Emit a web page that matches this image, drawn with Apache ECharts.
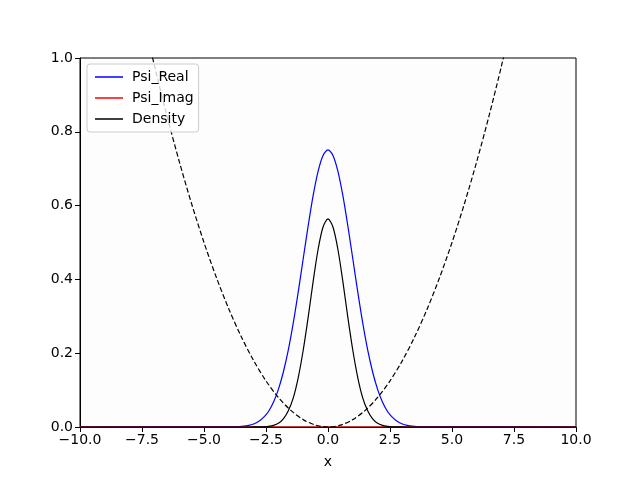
<!DOCTYPE html>
<html><head><meta charset="utf-8">
<script src="https://cdn.jsdelivr.net/npm/echarts@6/dist/echarts.min.js"></script>
<style>html,body{margin:0;padding:0;background:#fff}#c{width:640px;height:480px}</style>
</head><body><div id="c"></div>
<script>
// Wavefunction sample positions
const xWave = [-10, -4.0, -3.8, -3.6, -3.4, -3.2, -3.0, -2.8, -2.6, -2.4, -2.2, -2.0, -1.8, -1.6, -1.4, -1.2, -1.0, -0.8, -0.6, -0.4, -0.2, 0.0,
  0.2, 0.4, 0.6, 0.8, 1.0, 1.2, 1.4, 1.6, 1.8, 2.0, 2.2, 2.4, 2.6, 2.8, 3.0, 3.2, 3.4, 3.6, 3.8, 4.0, 10];
const psiReal = [0, 0.0003, 0.0005, 0.0012, 0.0023, 0.0045, 0.0083, 0.015, 0.026, 0.042, 0.067, 0.102, 0.149, 0.209, 0.282, 0.366, 0.456, 0.545, 0.627, 0.693, 0.736, 0.751,
  0.736, 0.693, 0.627, 0.545, 0.456, 0.366, 0.282, 0.209, 0.149, 0.102, 0.067, 0.042, 0.026, 0.015, 0.0083, 0.0045, 0.0023, 0.0012, 0.0005, 0.0003, 0];
const psiImag = [0, 0, 0, 0, 0, 0, 0, 0, 0, 0, 0, 0, 0, 0, 0, 0, 0, 0, 0, 0, 0, 0,
  0, 0, 0, 0, 0, 0, 0, 0, 0, 0, 0, 0, 0, 0, 0, 0, 0, 0, 0, 0, 0];
const density = [0, 0, 0, 0, 0, 0, 0.0001, 0.0002, 0.0006, 0.0018, 0.0045, 0.010, 0.022, 0.044, 0.079, 0.134, 0.208, 0.297, 0.394, 0.481, 0.542, 0.564,
  0.542, 0.481, 0.394, 0.297, 0.208, 0.134, 0.079, 0.044, 0.022, 0.010, 0.0045, 0.0018, 0.0006, 0.0002, 0.0001, 0, 0, 0, 0, 0, 0];
// Potential (dashed)
const xPot = [-8, -7.5, -7, -6.5, -6, -5.5, -5, -4.5, -4, -3.5, -3, -2.5, -2, -1.5, -1, -0.5, 0, 0.5, 1, 1.5, 2, 2.5, 3, 3.5, 4, 4.5, 5, 5.5, 6, 6.5, 7, 7.5, 8];
const potential = [1.28, 1.125, 0.98, 0.845, 0.72, 0.605, 0.5, 0.405, 0.32, 0.245, 0.18, 0.125, 0.08, 0.045, 0.02, 0.005, 0, 0.005, 0.02, 0.045, 0.08, 0.125, 0.18, 0.245, 0.32, 0.405, 0.5, 0.605, 0.72, 0.845, 0.98, 1.125, 1.28];

const pair = (xs, ys) => xs.map((x, i) => [x, ys[i]]);
const font = 'DejaVu Sans';
const fmt1 = v => v.toFixed(1).replace('-', '\u2212');

const chart = echarts.init(document.getElementById('c'), null, {renderer: 'canvas'});
chart.setOption({
  animation: false,
  grid: {left: 80, right: 64, top: 58, bottom: 53, show: true, backgroundColor: '#fdfdfd', borderColor: '#000', borderWidth: 1},
  legend: {
    data: ['Psi_Real', 'Psi_Imag', 'Density'],
    orient: 'vertical', left: 87, top: 64,
    icon: 'rect', itemWidth: 28, itemHeight: 1.5, itemGap: 7,
    padding: [6, 5, 6, 8],
    backgroundColor: 'rgba(255,255,255,0.8)', borderColor: '#ccc', borderWidth: 1, borderRadius: 3,
    textStyle: {fontFamily: font, fontSize: 14, color: '#000', padding: [0, 0, 0, 4]}
  },
  xAxis: {
    type: 'value', min: -10, max: 10, interval: 2.5,
    name: 'x', nameLocation: 'middle', nameGap: 28,
    nameTextStyle: {fontFamily: font, fontSize: 14, color: '#000'},
    axisLine: {show: true, onZero: false, lineStyle: {color: '#000', width: 1}},
    axisTick: {show: true, length: 5, lineStyle: {color: '#000'}},
    axisLabel: {fontFamily: font, fontSize: 14, color: '#000', margin: 6, formatter: fmt1},
    splitLine: {show: false}
  },
  yAxis: {
    type: 'value', min: 0, max: 1, interval: 0.2,
    axisLine: {show: true, onZero: false, lineStyle: {color: '#000', width: 1}},
    axisTick: {show: true, length: 5, lineStyle: {color: '#000'}},
    axisLabel: {fontFamily: font, fontSize: 14, color: '#000', margin: 7, formatter: fmt1},
    splitLine: {show: false}
  },
  series: [
    {name: 'Psi_Real', type: 'line', data: pair(xWave, psiReal), smooth: 0.3, showSymbol: false, clip: true, lineStyle: {color: '#0000ff', width: 1.2}, itemStyle: {color: '#0000ff'}},
    {name: 'Psi_Imag', type: 'line', data: pair(xWave, psiImag), showSymbol: false, clip: true, lineStyle: {color: '#ff0000', width: 1.2}, itemStyle: {color: '#ff0000'}},
    {name: 'Density', type: 'line', data: pair(xWave, density), smooth: 0.3, showSymbol: false, clip: true, lineStyle: {color: '#000', width: 1.2}, itemStyle: {color: '#000'}},
    {name: 'Potential', type: 'line', data: pair(xPot, potential), smooth: 0.3, showSymbol: false, clip: true, lineStyle: {color: '#000', width: 1.2, type: [5, 2.5]}, itemStyle: {color: '#000'}}
  ]
});
</script></body></html>
